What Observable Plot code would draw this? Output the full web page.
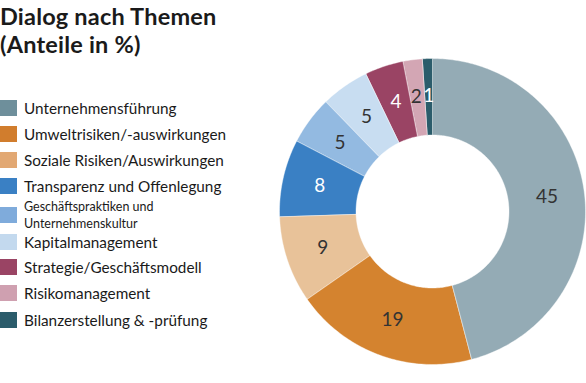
<!DOCTYPE html>
<html>
<head>
<meta charset="utf-8">
<script src="https://cdn.jsdelivr.net/npm/d3@7"></script>
<script src="https://cdn.jsdelivr.net/npm/@observablehq/plot@0.6"></script>
<style>
  html, body { margin: 0; padding: 0; background: #fff; }
  #wrap { position: relative; width: 586px; height: 383px; overflow: hidden; font-family: Lato, "Open Sans", sans-serif; color: #1a1a1a; }
  #title { position: absolute; left: 0; top: 2px; font-size: 23.5px; font-weight: 700; line-height: 28px; letter-spacing: 0.2px; }
  #legend { position: absolute; left: 0; top: 95px; }
  .item { position: absolute; left: 0; display: flex; align-items: center; }
  .sw { width: 17px; height: 16px; margin-right: 7px; flex: none; }
  .lab { font-size: 15.3px; line-height: 18px; white-space: nowrap; }
  .lab.small { font-size: 12.5px; line-height: 17px; }
  #chart { position: absolute; left: 0; top: 0; }
</style>
</head>
<body>
<div id="wrap">
  <div id="chart"></div>
  <div id="title">Dialog nach Themen<br>(Anteile in %)</div>
  <div id="legend"></div>
</div>
<script>
const categories = [
  "Unternehmensführung",
  "Umweltrisiken/-auswirkungen",
  "Soziale Risiken/Auswirkungen",
  "Transparenz und Offenlegung",
  "Geschäftspraktiken und Unternehmenskultur",
  "Kapitalmanagement",
  "Strategie/Geschäftsmodell",
  "Risikomanagement",
  "Bilanzerstellung & -prüfung"
];
const values = [45, 19, 9, 8, 5, 5, 4, 2, 1];
const sliceColors = ["#94abb5", "#d4832f", "#e8c299", "#3a80c4", "#93bae1", "#c8ddf1", "#9a4464", "#d3a6b4", "#2b5c6b"];
const legendColors = ["#6e8f9b", "#d17d2d", "#e2a873", "#3a80c4", "#7fabdb", "#c3d9ee", "#9a4464", "#cfa0b0", "#2b5c6b"];
const labelColors = ["#333", "#333", "#333", "#fff", "#333", "#333", "#fff", "#333", "#fff"];
const legendRows = [108, 134, 160, 186, 215, 242, 267, 293, 320];

// layout
const W = 586, H = 383, cx = 432, cy = 211, R = 153, r0 = 0.5;

const pie = d3.pie().sort(null).value(d => d)(values);
const polys = [];
pie.forEach((p, i) => {
  const n = Math.max(8, Math.ceil((p.endAngle - p.startAngle) * 60));
  const pts = [];
  for (let k = 0; k <= n; k++) {
    const a = p.startAngle + (p.endAngle - p.startAngle) * k / n;
    pts.push({a, rad: 1});
  }
  for (let k = n; k >= 0; k--) {
    const a = p.startAngle + (p.endAngle - p.startAngle) * k / n;
    pts.push({a, rad: r0});
  }
  pts.forEach(q => polys.push({cat: categories[i], x: q.rad * Math.sin(q.a), y: q.rad * Math.cos(q.a)}));
});
const labels = pie.map((p, i) => {
  const a = (p.startAngle + p.endAngle) / 2;
  const rr = 0.755;
  return {v: values[i], x: rr * Math.sin(a), y: rr * Math.cos(a), c: labelColors[i]};
});
labels[7].x -= 0.01;

const plot = Plot.plot({
  width: W, height: H,
  margin: 0,
  x: {domain: [-cx / R, (W - cx) / R], axis: null},
  y: {domain: [-(H - cy) / R, cy / R], axis: null},
  color: {domain: categories, range: sliceColors},
  marks: [
    Plot.line(polys, {x: "x", y: "y", z: "cat", fill: "cat", stroke: "#fff", strokeWidth: 0.4, curve: "linear-closed"}),
    Plot.text(labels, {x: "x", y: "y", text: "v", fill: "c", fontSize: 19, fontWeight: 400, fontFamily: "Lato, sans-serif"})
  ]
});
document.getElementById("chart").appendChild(plot);

const leg = document.getElementById("legend");
categories.forEach((c, i) => {
  const it = document.createElement("div");
  it.className = "item";
  const sw = document.createElement("div");
  sw.className = "sw";
  sw.style.background = legendColors[i];
  const lab = document.createElement("div");
  lab.className = "lab" + (i === 4 ? " small" : "");
  if (i === 4) lab.innerHTML = "Geschäftspraktiken und<br>Unternehmenskultur";
  else lab.textContent = c;
  it.appendChild(sw); it.appendChild(lab);
  it.style.top = (legendRows[i] - 95) + "px";
  it.style.transform = "translateY(-50%)";
  leg.appendChild(it);
});
</script>
</body>
</html>
